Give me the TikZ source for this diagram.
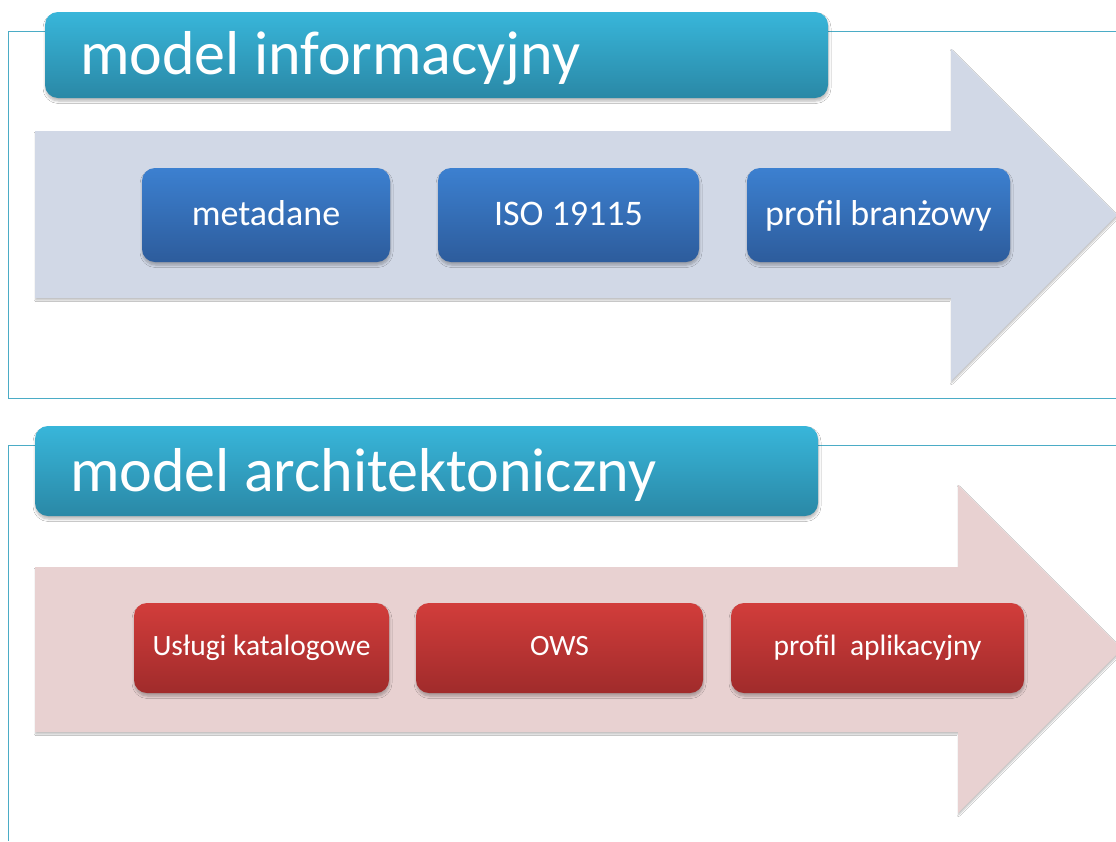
\documentclass[tikz,border=0pt]{standalone}
\usepackage{fontspec}
\setmainfont{Carlito}
\usetikzlibrary{shadows.blur}

\definecolor{frameline}{HTML}{4BACC6}
\definecolor{titletop}{HTML}{38B6DA}
\definecolor{titlebot}{HTML}{2A88A6}
\definecolor{arrowblue}{HTML}{D1D8E6}
\definecolor{arrowred}{HTML}{E8D1D1}
\definecolor{bluetop}{HTML}{3C80D0}
\definecolor{bluebot}{HTML}{2D5C9C}
\definecolor{redtop}{HTML}{D23D3B}
\definecolor{redbot}{HTML}{A02B2B}

\tikzset{
  softshadow/.style={blur shadow={shadow xshift=0.5pt, shadow yshift=-3pt,
      shadow opacity=28, shadow blur steps=6, shadow blur radius=2.5pt}},
  titlebox/.style={rectangle, rounded corners=13pt, top color=titletop,
      bottom color=titlebot, draw=none, minimum width=783pt, softshadow},
  titletext/.style={text=white, font=\fontsize{62}{74}\selectfont, inner sep=0pt},
  bluebox/.style={rectangle, rounded corners=13pt, top color=bluetop,
      bottom color=bluebot, draw=none, minimum height=94pt, text=white,
      text height=25pt, text depth=5pt,
      font=\fontsize{36}{43}\selectfont, softshadow},
  redbox/.style={rectangle, rounded corners=13pt, top color=redtop,
      bottom color=redbot, draw=none, minimum height=90pt, text=white,
      text height=20pt, text depth=6pt,
      font=\fontsize{29.5}{35}\selectfont, softshadow},
  bigarrow/.style={draw=none, blur shadow={shadow xshift=0.5pt, shadow yshift=-2pt,
      shadow opacity=25, shadow blur steps=4, shadow blur radius=1.5pt}},
  frame/.style={draw=frameline, line width=1pt}
}

\begin{document}
\begin{tikzpicture}[x=1pt, y=-1pt]
  \useasboundingbox (0,0) rectangle (1116,841);
  \fill[white] (0,0) rectangle (1116,841);

  % section frames
  \draw[frame] (1116,31) -- (8.5,31) -- (8.5,398) -- (1116,398);
  \draw[frame] (1116,445) -- (8.5,445) -- (8.5,841);

  % large background arrows
  \fill[arrowblue, bigarrow] (35,131) -- (951,131) -- (951,49) -- (1117,215)
        -- (951,381) -- (951,298) -- (35,298) -- cycle;
  \fill[arrowred, bigarrow] (35,567) -- (958,567) -- (958,485) -- (1122,649)
        -- (958,813) -- (958,732) -- (35,732) -- cycle;

  % section 1: information model
  \node[titlebox, minimum height=86pt] (t1) at (436.5,55) {};
  \node[titletext, anchor=base west] (t1text) at (80,74) {model informacyjny};

  \node[bluebox, minimum width=248pt] (meta) at (266,215) {metadane};
  \node[bluebox, minimum width=261pt] (iso) at (568.5,215) {ISO 19115};
  \node[bluebox, minimum width=263pt] (branz) at (878.5,215) {profil branżowy};

  % section 2: architecture model
  \node[titlebox, minimum height=90pt] (t2) at (426.5,471) {};
  \node[titletext, anchor=base west] (t2text) at (70,491) {model architektoniczny};

  \node[redbox, minimum width=255pt] (kat) at (261.5,648) {Usługi katalogowe};
  \node[redbox, minimum width=287pt] (ows) at (559.5,648) {OWS};
  \node[redbox, minimum width=293pt] (apl) at (877.5,648) {profil~~aplikacyjny};
\end{tikzpicture}
\end{document}
